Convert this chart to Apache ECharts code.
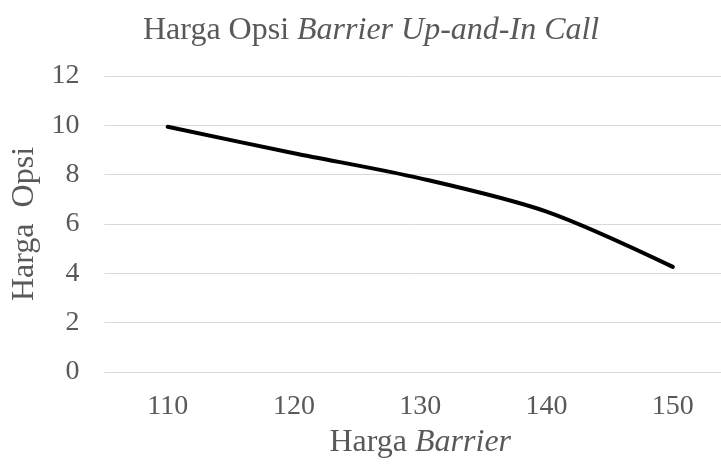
<!DOCTYPE html>
<html>
<head>
<meta charset="utf-8">
<script src="https://cdn.jsdelivr.net/npm/echarts@6/dist/echarts.min.js"></script>
<style>html,body{margin:0;padding:0;background:#fff}#c{width:721px;height:468px}</style>
</head>
<body>
<div id="c"></div>
<script>
const categories = ['110', '120', '130', '140', '150'];
const hargaOpsi = [9.94, 8.87, 7.85, 6.5, 4.26];
const yTicks = { min: 0, max: 12, interval: 2 };

const FONT = '"Liberation Serif", "Times New Roman", serif';
const GREY = '#595959';
const chart = echarts.init(document.getElementById('c'), null, { renderer: 'canvas' });
chart.setOption({
  animation: false,
  backgroundColor: '#ffffff',
  title: {
    text: '{n|Harga Opsi }{i|Barrier Up-and-In Call}',
    left: 138,
    top: 10,
    textStyle: {
      fontFamily: FONT,
      fontWeight: 'normal',
      fontSize: 32,
      color: GREY,
      rich: {
        n: { fontFamily: FONT, fontSize: 32, color: GREY, fontWeight: 'normal' },
        i: { fontFamily: FONT, fontSize: 32, color: GREY, fontStyle: 'italic', fontWeight: 'normal' }
      }
    }
  },
  grid: { left: 104.5, width: 631.5, top: 76, bottom: 96, containLabel: false, outerBoundsMode: 'none' },
  xAxis: {
    type: 'category',
    data: categories,
    boundaryGap: true,
    axisLine: { show: true, lineStyle: { color: '#d9d9d9', width: 1 } },
    axisTick: { show: false },
    axisLabel: { fontFamily: FONT, fontSize: 28, color: GREY, margin: 21 },
    name: '{n|Harga }{i|Barrier}',
    nameLocation: 'middle',
    nameGap: 55,
    nameTextStyle: {
      fontFamily: FONT,
      fontSize: 32,
      color: GREY,
      rich: {
        n: { fontFamily: FONT, fontSize: 32, color: GREY },
        i: { fontFamily: FONT, fontSize: 32, color: GREY, fontStyle: 'italic' }
      }
    }
  },
  yAxis: {
    type: 'value',
    min: yTicks.min,
    max: yTicks.max,
    interval: yTicks.interval,
    axisLine: { show: false },
    axisTick: { show: false },
    splitLine: { show: true, lineStyle: { color: '#d9d9d9', width: 1 } },
    axisLabel: { fontFamily: FONT, fontSize: 28, color: GREY, margin: 25 },
    name: 'Harga  Opsi',
    nameLocation: 'middle',
    nameGap: 57,
    nameRotate: 90,
    nameTextStyle: { fontFamily: FONT, fontSize: 32, color: GREY }
  },
  series: [{
    type: 'line',
    data: hargaOpsi,
    smooth: 0.3,
    showSymbol: false,
    lineStyle: { color: '#000000', width: 4, cap: 'round', join: 'round' }
  }]
});
</script>
</body>
</html>
